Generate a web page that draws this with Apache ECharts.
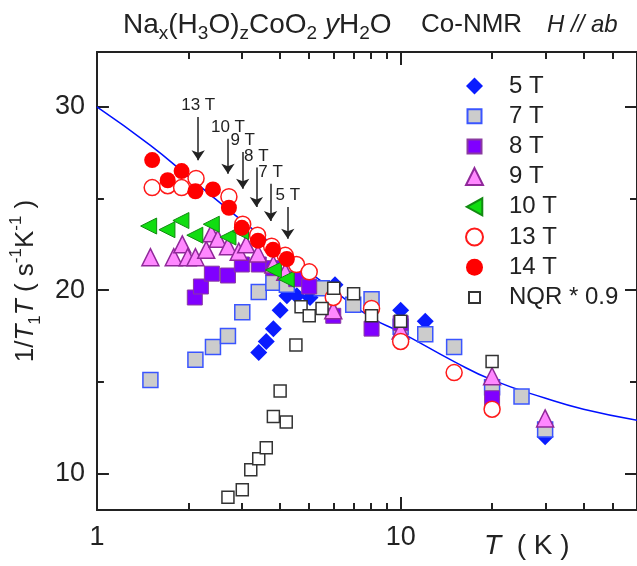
<!DOCTYPE html>
<html>
<head>
<meta charset="utf-8">
<script src="https://cdn.jsdelivr.net/npm/echarts@6/dist/echarts.min.js"></script>
<style>
  html, body { margin: 0; padding: 0; background: #fff; }
  #chart { width: 637px; height: 566px; }
</style>
</head>
<body>
<div id="chart"></div>
<script>
  // T (K) and 1/T1T (s^-1 K^-1)
  const t5 = [3.41, 3.61, 3.81, 4.01, 4.22, 4.55, 5.03, 6.08, 10.0, 12.05, 29.9];
  const v5 = [16.6, 17.2, 17.9, 18.9, 19.7, 19.7, 19.6, 20.3, 18.9, 18.3, 12.0];
  const t7 = [1.50, 2.11, 2.41, 2.70, 3.01, 3.41, 3.81, 4.22, 5.50, 6.98, 8.02, 10.0, 12.05, 15.0, 20.0, 25.0, 29.9];
  const v7 = [15.1, 16.2, 16.9, 17.5, 18.8, 19.9, 20.4, 20.3, 20.1, 19.2, 19.5, 18.0, 17.6, 16.9, 14.7, 14.2, 12.4];
  const t8 = [2.10, 2.20, 2.39, 2.70, 3.00, 3.41, 3.81, 4.53, 5.00, 6.00, 8.02, 10.0, 20.0];
  const v8 = [19.6, 20.2, 20.9, 20.8, 21.4, 21.4, 21.2, 20.6, 20.2, 18.6, 17.9, 18.2, 14.1];
  const t9 = [1.50, 1.79, 1.91, 1.99, 2.11, 2.29, 2.38, 2.50, 2.70, 2.93, 3.10, 3.39, 3.81, 4.17, 6.00, 10.0, 20.0, 29.9];
  const v9 = [21.8, 21.8, 22.5, 21.8, 21.8, 22.2, 23.1, 22.8, 22.4, 22.1, 22.5, 22.0, 21.4, 21.0, 18.9, 17.8, 15.3, 13.0];
  const t10 = [1.48, 1.70, 1.89, 2.10, 2.38, 2.70, 2.97, 3.81, 4.20];
  const v10 = [23.5, 23.3, 23.8, 23.0, 23.6, 22.9, 23.2, 21.1, 20.6];
  const t13 = [1.52, 1.71, 1.90, 2.12, 2.72, 3.02, 3.38, 3.76, 4.17, 4.54, 5.00, 6.00, 8.02, 10.0, 15.0, 20.0];
  const v13 = [25.6, 25.7, 25.6, 26.1, 25.1, 23.6, 23.0, 22.4, 21.9, 21.4, 21.0, 19.6, 19.0, 17.2, 15.5, 13.5];
  const t14 = [1.52, 1.71, 1.90, 2.11, 2.41, 2.72, 3.00, 3.39, 3.80, 4.22];
  const v14 = [27.1, 26.0, 26.5, 25.4, 25.5, 24.5, 23.4, 22.7, 22.2, 21.7];
  const tNqr = [2.70, 3.01, 3.21, 3.41, 3.61, 3.81, 4.01, 4.20, 4.52, 4.70, 5.00, 5.51, 6.02, 7.00, 8.02, 10.0, 20.0];
  const vNqr = [8.7, 9.1, 10.2, 10.8, 11.4, 13.1, 14.5, 12.8, 17.0, 19.1, 18.6, 19.0, 20.1, 19.8, 18.6, 18.3, 16.1];
  // fitted curve, points
  const tFit = [1, 1.5, 2, 3, 4, 6, 8, 10, 15, 20, 30, 40, 60];
  const vFit = [30.0, 27.9, 26.2, 23.8, 22.2, 20.0, 18.5, 17.7, 16.1, 15.1, 14.1, 13.5, 12.9];
  // field arrows
  const arrowText = ['13 T', '10 T', '9 T', '8 T', '7 T', '5 T'];
  const arrowT = [2.155, 2.70, 3.02, 3.35, 3.73, 4.25];
  const arrowTop = [29.45, 28.27, 27.54, 26.69, 25.81, 24.54];
  const arrowBottom = [27.09, 26.36, 25.54, 24.54, 23.77, 22.81];
  // ticks
  const xMajor = [1, 10];
  const xMinor = [2, 3, 4, 5, 6, 7, 8, 9, 20, 30, 40, 50];
  const yMajor = [10, 20, 30];
  const yMinor = [15, 25];

  const font = 'Liberation Sans';
  const ink = '#222';
  const pairs = (t, v) => t.map((x, i) => [x, v[i]]);
  const txt = (size, extra) => Object.assign({fontSize: size, fontFamily: font, color: ink, fontWeight: 'normal'}, extra || {});

  function xAx(pos, ticks, len, line, labels) {
    return {
      type: 'log', logBase: 10, min: 1, max: 60, position: pos,
      axisLine: {show: line, lineStyle: {color: ink, width: 2}},
      axisTick: {show: true, inside: true, length: len, customValues: ticks, lineStyle: {color: ink, width: 2}},
      axisLabel: labels ? txt(27, {customValues: xMajor, margin: 14}) : {show: false},
      splitLine: {show: false}, minorTick: {show: false}
    };
  }
  function yAx(pos, ticks, len, line, labels) {
    return {
      type: 'value', min: 8, max: 33, position: pos,
      axisLine: {show: line, lineStyle: {color: ink, width: 2}},
      axisTick: {show: true, inside: true, length: len, customValues: ticks, lineStyle: {color: ink, width: 2}},
      axisLabel: labels ? txt(27, {customValues: yMajor, margin: 12}) : {show: false},
      splitLine: {show: false}
    };
  }

  const yName = {
    name: '{n|1/}{i|T}{s|1}{i|T}{n| ( s}{p|-1}{n|K}{p|-1}{n| )}',
    nameLocation: 'middle', nameGap: 52,
    nameTextStyle: {
      rich: {
        n: txt(26, {lineHeight: 36}),
        i: txt(26, {lineHeight: 36, fontStyle: 'italic'}),
        s: txt(17, {lineHeight: 17, verticalAlign: 'bottom'}),
        p: txt(17, {lineHeight: 17, verticalAlign: 'top'})
      }
    }
  };

  const titleRich = {
    r: txt(28, {lineHeight: 36}),
    i: txt(28, {lineHeight: 36, fontStyle: 'italic'}),
    s: txt(19, {lineHeight: 19, verticalAlign: 'bottom'}),
    m: txt(26, {lineHeight: 36}),
    h: txt(24, {lineHeight: 36, fontStyle: 'italic'})
  };

  function scatter(name, t, v, symbol, size, fill, border, bw) {
    return {
      name: name, type: 'scatter', data: pairs(t, v), symbol: symbol, symbolSize: size,
      itemStyle: {color: fill, borderColor: border, borderWidth: bw, opacity: 1},
      emphasis: {disabled: true}
    };
  }

  const chart = echarts.init(document.getElementById('chart'));
  chart.setOption({
    animation: false,
    title: [
      {
        left: 118, top: 2,
        text: '{r|Na}{s|x}{r|(H}{s|3}{r|O)}{s|z}{r|CoO}{s|2}{r| }{i|y}{r|H}{s|2}{r|O}',
        textStyle: {fontWeight: 'normal', rich: titleRich}
      },
      {left: 416, top: 2, text: '{m|Co-NMR}', textStyle: {fontWeight: 'normal', rich: titleRich}},
      {left: 542, top: 2, text: '{h|H // ab}', textStyle: {fontWeight: 'normal', rich: titleRich}},
      {
        left: 479, top: 527,
        text: '{i|T}{r|  ( K )}',
        textStyle: {fontWeight: 'normal', rich: {r: txt(28), i: txt(28, {fontStyle: 'italic'})}}
      }
    ],
    grid: {left: 96, right: -2, top: 52, bottom: 56, containLabel: false},
    legend: {
      orient: 'vertical', left: 460, top: 69, itemWidth: 17, itemHeight: 17, itemGap: 6.2,
      textStyle: txt(24, {padding: [0, 0, 0, 21]}),
      data: [
        {name: '5 T'},
        {name: '7 T', icon: 'path://M0,0M17,17M1.5,1.5h14v14h-14z'},
        {name: '8 T', icon: 'path://M0,0M17,17M1.5,1.5h14v14h-14z'},
        {name: '9 T'},
        {name: '10 T'},
        {name: '13 T'},
        {name: '14 T'},
        {name: 'NQR * 0.9', icon: 'path://M0,0M17,17M3,3h11v11h-11z'}
      ],
      selectedMode: false
    },
    xAxis: [
      xAx('bottom', xMajor, 13, true, true),
      xAx('bottom', xMinor, 7, false, false),
      xAx('top', xMajor, 13, true, false),
      xAx('top', xMinor, 7, false, false)
    ],
    yAxis: [
      Object.assign(yAx('left', yMajor, 12, true, true), yName),
      yAx('left', yMinor, 7, false, false),
      yAx('right', yMajor, 12, true, false),
      yAx('right', yMinor, 7, false, false)
    ],
    series: [
      {
        name: 'fit', type: 'line', data: pairs(tFit, vFit), smooth: true, symbol: 'none',
        lineStyle: {color: '#0010ff', width: 1.5}, silent: true, z: 1,
        markLine: {
          silent: true, symbol: ['none', 'arrow'], symbolSize: 10, animation: false,
          lineStyle: {color: ink, width: 1.5, type: 'solid'},
          label: txt(17, {show: true, position: 'start', formatter: '{b}', distance: 3}),
          data: arrowText.map((s, i) => [{name: s, coord: [arrowT[i], arrowTop[i]]}, {coord: [arrowT[i], arrowBottom[i]]}])
        }
      },
      scatter('5 T', t5, v5, 'diamond', 17, '#0a1cff', '#0a1cff', 0),
      scatter('7 T', t7, v7, 'rect', 15, '#cccccc', '#3a55ff', 1.5),
      scatter('8 T', t8, v8, 'rect', 15, '#8000ff', '#8a3aa0', 1),
      scatter('9 T', t9, v9, 'triangle', 17, '#ff88ff', '#90289a', 1.5),
      scatter('10 T', t10, v10, 'path://M0,6L11,0L11,12Z', 16, '#11dd11', '#128a12', 1),
      scatter('13 T', t13, v13, 'circle', 16, '#ffffff', '#ff1a1a', 1.5),
      scatter('14 T', t14, v14, 'circle', 16, '#ff0000', '#ff0000', 0),
      scatter('NQR * 0.9', tNqr, vNqr, 'rect', 12, '#ffffff', '#333333', 1.5)
    ]
  });
</script>
</body>
</html>
